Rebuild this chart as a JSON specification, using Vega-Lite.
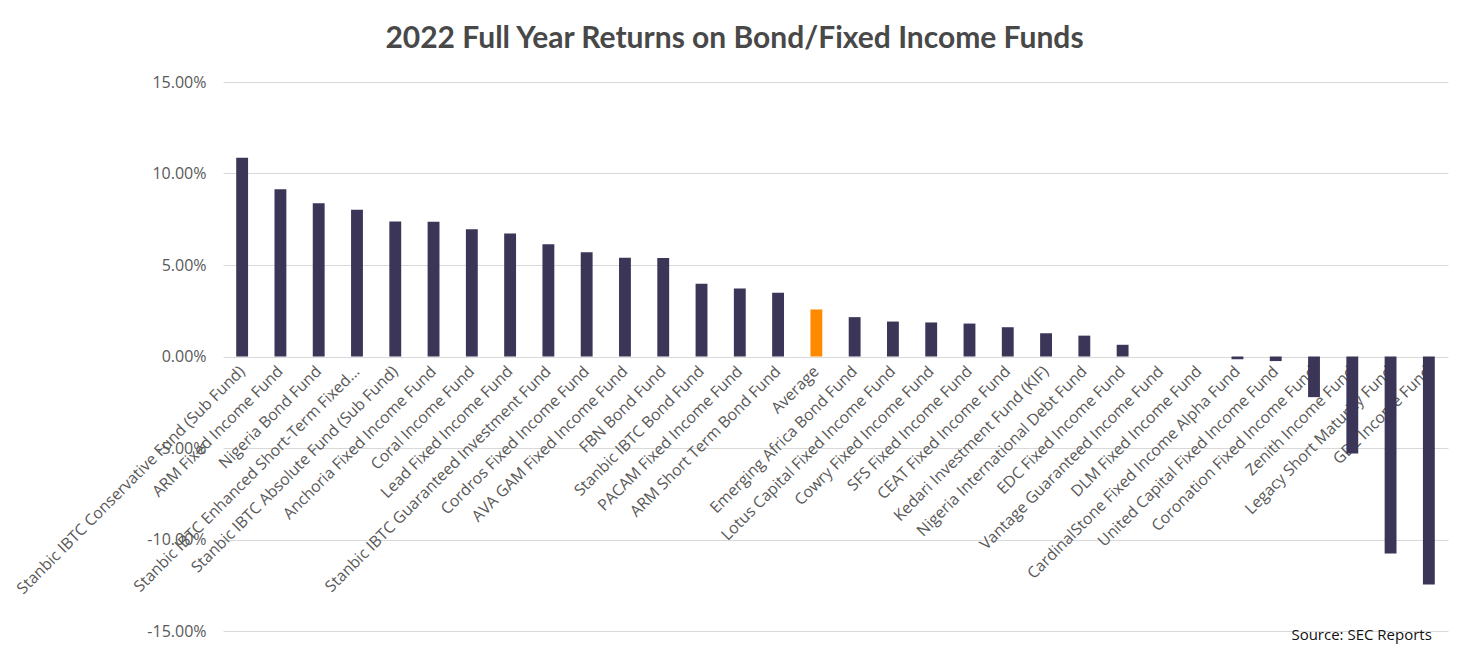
{
  "$schema": "https://vega.github.io/schema/vega-lite/v6.json",
  "width": 1225,
  "height": 549,
  "autosize": {"type": "none"},
  "padding": {"left": 223, "top": 82, "right": 22, "bottom": 26},
  "background": "white",
  "title": {
    "text": "2022 Full Year Returns on Bond/Fixed Income Funds",
    "font": "Lato",
    "fontSize": 30,
    "fontWeight": "bold",
    "color": "#484848",
    "anchor": "middle",
    "dx": -101,
    "offset": 20
  },
  "data": {
    "values": [
      {"fund": "Stanbic IBTC Conservative Fund (Sub Fund)", "ret": 0.1086, "kind": "fund"},
      {"fund": "ARM Fixed Income Fund", "ret": 0.0914, "kind": "fund"},
      {"fund": "Nigeria Bond Fund", "ret": 0.0837, "kind": "fund"},
      {"fund": "Stanbic IBTC Enhanced Short-Term Fixed...", "ret": 0.0802, "kind": "fund"},
      {"fund": "Stanbic IBTC Absolute Fund (Sub Fund)", "ret": 0.0738, "kind": "fund"},
      {"fund": "Anchoria Fixed Income Fund", "ret": 0.0736, "kind": "fund"},
      {"fund": "Coral Income Fund", "ret": 0.0696, "kind": "fund"},
      {"fund": "Lead Fixed Income Fund", "ret": 0.0672, "kind": "fund"},
      {"fund": "Stanbic IBTC Guaranteed Investment Fund", "ret": 0.0614, "kind": "fund"},
      {"fund": "Cordros Fixed Income Fund", "ret": 0.057, "kind": "fund"},
      {"fund": "AVA GAM Fixed Income Fund", "ret": 0.054, "kind": "fund"},
      {"fund": "FBN Bond Fund", "ret": 0.0538, "kind": "fund"},
      {"fund": "Stanbic IBTC Bond Fund", "ret": 0.0397, "kind": "fund"},
      {"fund": "PACAM Fixed Income Fund", "ret": 0.0372, "kind": "fund"},
      {"fund": "ARM Short Term Bond Fund", "ret": 0.0349, "kind": "fund"},
      {"fund": "Average", "ret": 0.0257, "kind": "average"},
      {"fund": "Emerging Africa Bond Fund", "ret": 0.0215, "kind": "fund"},
      {"fund": "Lotus Capital Fixed Income Fund", "ret": 0.0191, "kind": "fund"},
      {"fund": "Cowry Fixed Income Fund", "ret": 0.0186, "kind": "fund"},
      {"fund": "SFS Fixed Income Fund", "ret": 0.018, "kind": "fund"},
      {"fund": "CEAT Fixed Income Fund", "ret": 0.016, "kind": "fund"},
      {"fund": "Kedari Investment Fund (KIF)", "ret": 0.0127, "kind": "fund"},
      {"fund": "Nigeria International Debt Fund", "ret": 0.0114, "kind": "fund"},
      {"fund": "EDC Fixed Income Fund", "ret": 0.0064, "kind": "fund"},
      {"fund": "Vantage Guaranteed Income Fund", "ret": 0, "kind": "fund"},
      {"fund": "DLM Fixed Income Fund", "ret": 0, "kind": "fund"},
      {"fund": "CardinalStone Fixed Income Alpha Fund", "ret": -0.0015, "kind": "fund"},
      {"fund": "United Capital Fixed Income Fund", "ret": -0.0025, "kind": "fund"},
      {"fund": "Coronation Fixed Income Fund", "ret": -0.0222, "kind": "fund"},
      {"fund": "Zenith Income Fund", "ret": -0.053, "kind": "fund"},
      {"fund": "Legacy Short Maturity Fund", "ret": -0.1077, "kind": "fund"},
      {"fund": "GDL Income Fund", "ret": -0.1246, "kind": "fund"}
    ]
  },
  "layer": [
    {
      "mark": {"type": "bar"},
      "encoding": {
        "x": {
          "field": "fund",
          "type": "nominal",
          "sort": null,
          "scale": {"paddingInner": 0.69, "paddingOuter": 0.345},
          "axis": {
            "title": null,
            "offset": -274.5,
            "domain": false,
            "ticks": false,
            "labelAngle": -45,
            "labelAlign": "right",
            "labelBaseline": "middle",
            "labelPadding": 12,
            "labelFont": "Open Sans",
            "labelFontSize": 15.8,
            "labelColor": "#595959",
            "labelLimit": 400,
            "labelOverlap": false
          }
        },
        "y": {
          "field": "ret",
          "type": "quantitative",
          "scale": {"domain": [-0.15, 0.15], "nice": false},
          "axis": {
            "title": null,
            "format": ".2%",
            "labelExpr": "replace(datum.label, '\u2212', '-')",
            "values": [-0.15, -0.1, -0.05, 0, 0.05, 0.1, 0.15],
            "domain": false,
            "ticks": false,
            "labelPadding": 17,
            "labelFont": "Open Sans",
            "labelFontSize": 16,
            "labelColor": "#595959",
            "gridColor": "#d9d9d9",
            "gridWidth": 1.2
          }
        },
        "color": {
          "field": "kind",
          "type": "nominal",
          "scale": {"domain": ["fund", "average"], "range": ["#3b3558", "#ff8a00"]},
          "legend": null
        }
      }
    },
    {
      "data": {"values": [{}]},
      "mark": {
        "type": "text",
        "text": "Source: SEC Reports",
        "align": "right",
        "baseline": "middle",
        "dx": 3,
        "dy": 4,
        "font": "Open Sans",
        "fontSize": 15,
        "color": "#111111"
      },
      "encoding": {
        "x": {"datum": "GDL Income Fund", "type": "nominal"},
        "y": {"datum": -0.15, "type": "quantitative"}
      }
    }
  ],
  "config": {
    "view": {"stroke": null}
  }
}
